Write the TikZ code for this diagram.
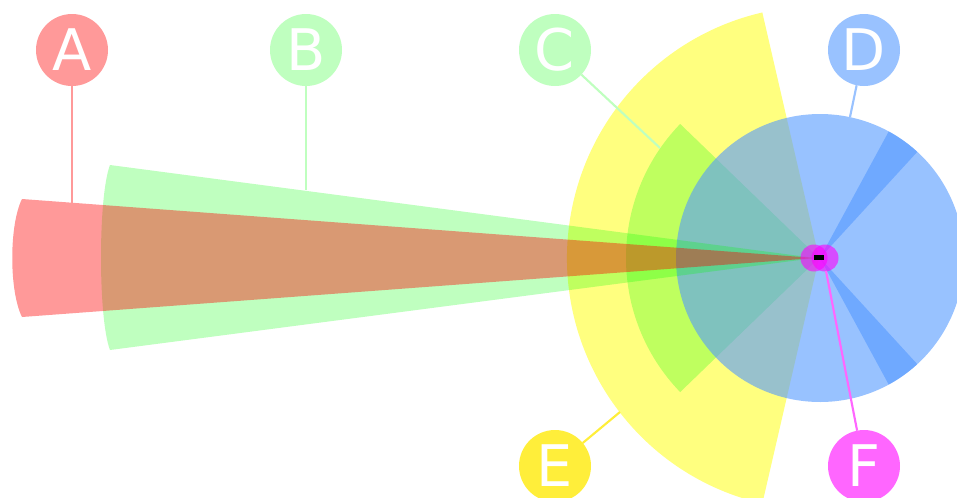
\documentclass[tikz,border=0pt]{standalone}
\usepackage{fontspec}
\newfontfamily\tagfont{DejaVu Sans}
\usetikzlibrary{positioning}
\definecolor{redC}{RGB}{255,0,0}
\definecolor{grnC}{RGB}{0,255,0}
\definecolor{yelC}{RGB}{255,255,0}
\definecolor{bluC}{RGB}{84,153,255}
\definecolor{magC}{RGB}{255,0,255}
\definecolor{tagAC}{HTML}{FF9999}
\definecolor{tagBC}{HTML}{BFFFBF}
\definecolor{tagDC}{HTML}{99C2FF}
\definecolor{tagEC}{HTML}{FFEE3A}
\definecolor{tagFC}{HTML}{FF66FF}

\begin{document}
\begin{tikzpicture}[
  x=0.75pt, y=-0.75pt,
  zone/.style 2 args={fill=#1, fill opacity=#2, draw=none},
  tagcirc/.style={
    circle, fill=#1, text=white, minimum size=54pt,
    inner sep=0pt, outer sep=0pt,
    font=\tagfont\fontsize{43}{43}\selectfont,
  },
  leadline/.style={draw=#1, line width=1.6pt},
]
\useasboundingbox (0,0) rectangle (957,497);

% ── Sensor origin ──
\coordinate (car) at (819,258);
\coordinate (rear) at (815,258);

% ── Wide zones ──
\fill[zone={yelC}{0.5}] (car) -- ++(103:252)
    arc[start angle=103, end angle=257, radius=252] -- cycle;
\fill[zone={grnC}{0.25}] (car) -- ++(136:193)
    arc[start angle=136, end angle=224, radius=193] -- cycle;
\fill[zone={bluC}{0.6}] (820,258) -- ++(47.5:144)
    arc[start angle=47.5, end angle=312.5, radius=144] -- cycle;
\fill[zone={bluC}{0.6}] (820,258) -- ++(-61.5:144)
    arc[start angle=-61.5, end angle=61.5, radius=144] -- cycle;

% ── Long range beams ──
\fill[zone={grnC}{0.25}] (rear) -- (110,165)
    .. controls (98,196) and (98,319) .. (110,350) -- cycle;
\fill[zone={redC}{0.4}] (rear) -- (22,199)
    .. controls (9,225) and (9,291) .. (22,317) -- cycle;

% ── Near field ──
\fill[zone={magC}{0.6}] (814,258) circle[radius=13.5];
\fill[zone={magC}{0.6}] (825,258) circle[radius=13.5];
\fill[black] (814,255) rectangle (824,260);

% ── Lead ends ──
\coordinate (aEnd) at (72,203);
\coordinate (bEnd) at (306,190);
\coordinate (cEnd) at (660,148);
\coordinate (dEnd) at (850,117);
\coordinate (eEnd) at (620,412);
\coordinate (fEnd) at (826,271);

% ── Tags ──
\node[tagcirc=tagAC] (A) at (72,50) {A};
\node[tagcirc=tagBC] (B) at (306,50) {B};
\node[tagcirc=tagBC] (C) at (555,50) {C};
\node[tagcirc=tagDC] (D) at (864,50) {D};
\node[tagcirc=tagEC] (E) at (555,466) {E};
\node[tagcirc=tagFC] (F) at (864,466) {F};

\draw[leadline=tagAC] (A) -- (aEnd);
\draw[leadline=tagBC] (B) -- (bEnd);
\draw[leadline=tagBC] (C) -- (cEnd);
\draw[leadline=tagDC] (D) -- (dEnd);
\draw[leadline=tagEC] (E) -- (eEnd);
\draw[leadline=tagFC] (F) -- (fEnd);

\end{tikzpicture}
\end{document}
